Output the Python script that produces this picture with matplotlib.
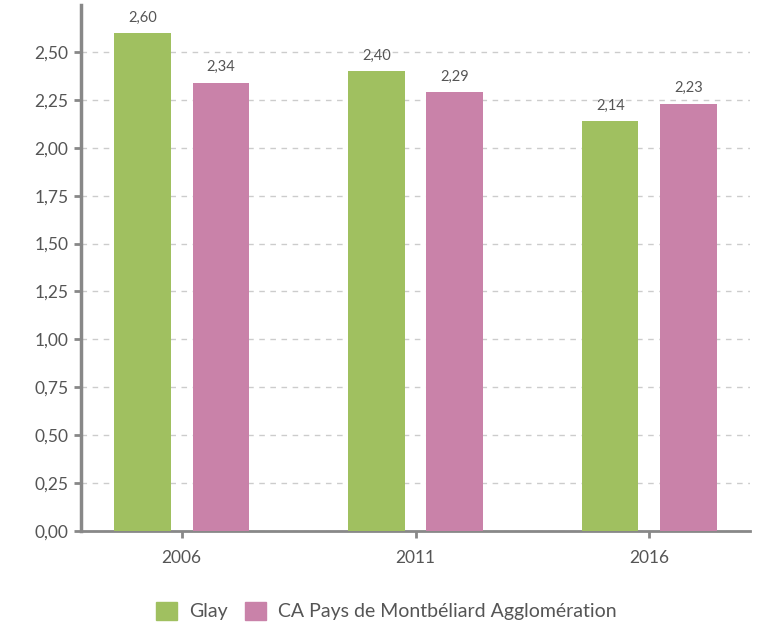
import matplotlib
matplotlib.use("Agg")
import matplotlib.pyplot as plt
from matplotlib.patches import Patch
import numpy as np

plt.rcParams['font.family'] = ['Lato', 'DejaVu Sans']

categories = ["2006", "2011", "2016"]
glay = [2.60, 2.40, 2.14]
ca_pma = [2.34, 2.29, 2.23]
series_names = ["Glay", "CA Pays de Montbéliard Agglomération"]
yticks = [0, 0.25, 0.5, 0.75, 1.0, 1.25, 1.5, 1.75, 2.0, 2.25, 2.5]

green = "#a0c060"
pink = "#c982a9"
text_col = "#555555"
axis_col = "#888888"

fig = plt.figure(figsize=(7.6, 6.24), dpi=100)
ax = fig.add_axes([81/760, 93/624, 669/760, 526/624])

x = np.arange(len(categories))
w = 0.24
off = 0.167
b1 = ax.bar(x - off, glay, w, color=green, zorder=3)
b2 = ax.bar(x + off, ca_pma, w, color=pink, zorder=3)

def fmt(v):
    return f"{v:.2f}".replace(".", ",")

for bars, vals in ((b1, glay), (b2, ca_pma)):
    for r, v in zip(bars, vals):
        ax.annotate(fmt(v), (r.get_x() + r.get_width()/2, v), xytext=(0, 6),
                    textcoords="offset points", ha="center", va="bottom",
                    fontsize=10.5, color=text_col)

ax.set_xlim(-0.43, 2.43)
ax.set_ylim(0, 2.745)
ax.set_yticks(yticks)
ax.set_yticklabels([fmt(v) for v in yticks], fontsize=12.5, color=text_col)
ax.set_xticks(x)
ax.set_xticklabels(categories, fontsize=12.5, color=text_col)

for v in yticks[1:]:
    ax.axhline(v, color="#cccccc", lw=1, ls=(0, (4, 4)), zorder=1)
ax.axhline(0, color="#bbbbbb", lw=1, ls=(0, (4, 4)), zorder=1)

for s in ("top", "right"):
    ax.spines[s].set_visible(False)
ax.spines["left"].set_color(axis_col)
ax.spines["left"].set_linewidth(2.5)
ax.spines["bottom"].set_color(axis_col)
ax.spines["bottom"].set_linewidth(2.0)
ax.tick_params(axis="y", length=5, width=2, color=axis_col, pad=4)
ax.tick_params(axis="x", length=5, width=2, color=axis_col, pad=9)

handles = [Patch(color=green), Patch(color=pink)]
fig.legend(handles, series_names, loc="center", bbox_to_anchor=(386/760, 13/624),
           ncol=2, frameon=False, fontsize=14, handlelength=1.1, handleheight=1.1,
           columnspacing=0.9, handletextpad=0.6, labelcolor=text_col)

fig.savefig("out.png", dpi=100)
